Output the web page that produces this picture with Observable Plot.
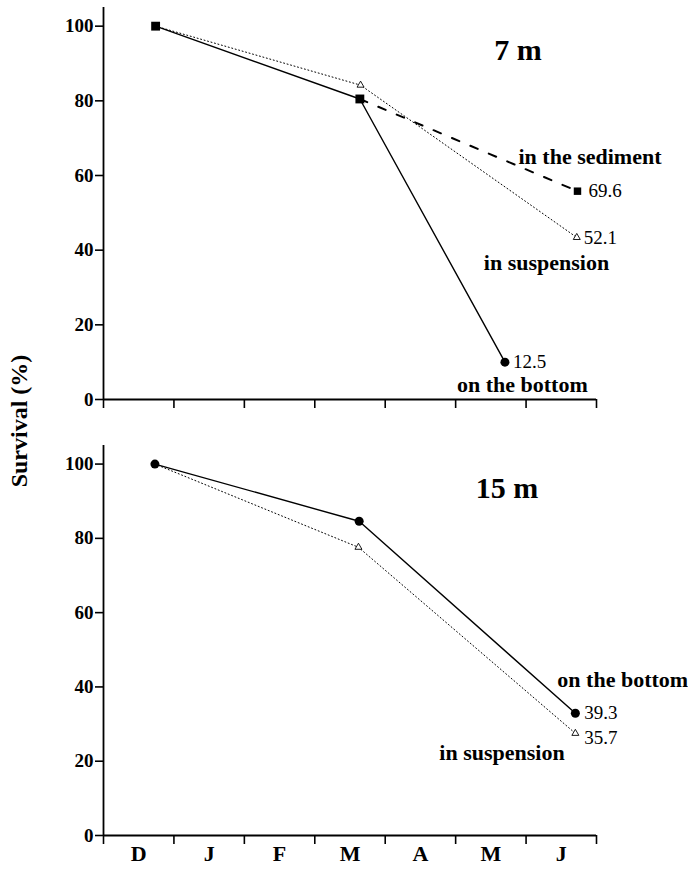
<!DOCTYPE html>
<html>
<head>
<meta charset="utf-8">
<script src="https://cdn.jsdelivr.net/npm/d3@7"></script>
<script src="https://cdn.jsdelivr.net/npm/@observablehq/plot@0.6"></script>
<style>
  html, body { margin: 0; padding: 0; background: #fff; }
  #wrap { position: relative; width: 688px; height: 873px; overflow: hidden; }
  #wrap svg.plot { display: block; }
  #ylab { position: absolute; left: 0; top: 0; }
</style>
</head>
<body>
<div id="wrap"></div>
<script>
// ---- data ----
const months = ["D", "J", "F", "M", "A", "M", "J"];
const monthBounds = [0, 1, 2, 3, 4, 5, 6, 7];
const monthCenters = [0.5, 1.5, 2.5, 3.5, 4.5, 5.5, 6.5];
const yTicks = [0, 20, 40, 60, 80, 100];

// 7 m panel (x = months since start of December)
const t7Bottom = [0.74, 3.64, 5.70];
const v7Bottom = [100, 80.5, 10];
const t7Sediment = [3.64, 6.73];
const v7Sediment = [80.5, 55.8];
const t7Suspension = [0.74, 3.65, 6.72];
const v7Suspension = [100, 84.2, 43.4];
const lab7 = {bottom: "12.5", sediment: "69.6", suspension: "52.1"};

// 15 m panel
const t15Bottom = [0.73, 3.63, 6.70];
const v15Bottom = [100, 84.6, 32.9];
const t15Suspension = [0.73, 3.62, 6.70];
const v15Suspension = [100, 77.6, 27.5];
const lab15 = {bottom: "39.3", suspension: "35.7"};

const zip = (xs, ys) => xs.map((x, i) => ({x, y: ys[i]}));
const last = (xs, ys) => [{x: xs[xs.length - 1], y: ys[ys.length - 1]}];

const serif = "Liberation Serif, Times New Roman, serif";
const common = {
  width: 688,
  marginLeft: 103,
  marginRight: 92,
  x: {domain: [0, 7], axis: null},
  y: {domain: [0, 105], axis: null},
  style: {fontFamily: serif, color: "black", background: "white", overflow: "visible"}
};
const axisMarks = (withLabels) => [
  Plot.ruleX([0], {strokeWidth: 1.8}),
  Plot.ruleY([0], {strokeWidth: 1.8}),
  Plot.axisY({ticks: yTicks, label: null, tickSize: 8, tickPadding: 2, fontSize: 19, fontWeight: "bold", strokeWidth: 1.6}),
  Plot.axisX({ticks: monthBounds, label: null, tickSize: 9, tickFormat: () => "", strokeWidth: 1.6}),
  ...(withLabels ? [Plot.axisX({ticks: monthCenters, label: null, tickSize: 0, tickPadding: 10, fontSize: 22, fontWeight: "bold",
     tickFormat: d => months[Math.floor(d)]})] : [])
];
const labelStyle = {fontSize: 22, fontWeight: "bold", textAnchor: "start", lineAnchor: "middle"};
const valStyle = {fontSize: 19, textAnchor: "start", lineAnchor: "middle"};

const plot7 = Plot.plot({
  ...common,
  height: 420,
  marginTop: 7,
  marginBottom: 21,
  marks: [
    ...axisMarks(false),
    Plot.line(zip(t7Suspension, v7Suspension), {x: "x", y: "y", stroke: "black", strokeWidth: 1, strokeDasharray: "1,2.6"}),
    Plot.line(zip(t7Sediment, v7Sediment), {x: "x", y: "y", stroke: "black", strokeWidth: 2, strokeDasharray: "8,12"}),
    Plot.line(zip(t7Bottom, v7Bottom), {x: "x", y: "y", stroke: "black", strokeWidth: 1.4}),
    Plot.dot(zip(t7Suspension, v7Suspension).slice(1), {x: "x", y: "y", symbol: "triangle", r: 2.6, stroke: "black", strokeWidth: 0.9, fill: "white"}),
    Plot.dot(zip(t7Bottom, v7Bottom).slice(0, 2), {x: "x", y: "y", symbol: "square", r: 5, fill: "black", stroke: "none"}),
    Plot.dot(last(t7Sediment, v7Sediment), {x: "x", y: "y", symbol: "square", r: 4.2, fill: "black", stroke: "none"}),
    Plot.dot(last(t7Bottom, v7Bottom), {x: "x", y: "y", symbol: "circle", r: 4.5, fill: "black", stroke: "none"}),
    Plot.text(last(t7Bottom, v7Bottom), {x: "x", y: "y", text: () => lab7.bottom, dx: 8, ...valStyle}),
    Plot.text(last(t7Sediment, v7Sediment), {x: "x", y: "y", text: () => lab7.sediment, dx: 11, ...valStyle}),
    Plot.text(last(t7Suspension, v7Suspension), {x: "x", y: "y", text: () => lab7.suspension, dx: 7, ...valStyle}),
    Plot.text(last(t7Sediment, v7Sediment), {x: "x", y: "y", text: () => "in the sediment", dx: -59, dy: -34, ...labelStyle}),
    Plot.text(last(t7Suspension, v7Suspension), {x: "x", y: "y", text: () => "in suspension", dx: -93, dy: 25, ...labelStyle}),
    Plot.text(last(t7Bottom, v7Bottom), {x: "x", y: "y", text: () => "on the bottom", dx: -48, dy: 23, ...labelStyle}),
    Plot.text(["7 m"], {frameAnchor: "top", dx: 168, dy: 43, fontSize: 30, fontWeight: "bold", lineAnchor: "middle"})
  ]
});

const plot15 = Plot.plot({
  ...common,
  height: 453,
  marginTop: 25,
  marginBottom: 38,
  marks: [
    ...axisMarks(true),
    Plot.line(zip(t15Suspension, v15Suspension), {x: "x", y: "y", stroke: "black", strokeWidth: 1, strokeDasharray: "1,2.6"}),
    Plot.line(zip(t15Bottom, v15Bottom), {x: "x", y: "y", stroke: "black", strokeWidth: 1.4}),
    Plot.dot(zip(t15Suspension, v15Suspension).slice(1), {x: "x", y: "y", symbol: "triangle", r: 2.6, stroke: "black", strokeWidth: 0.9, fill: "white"}),
    Plot.dot(zip(t15Bottom, v15Bottom), {x: "x", y: "y", symbol: "circle", r: 4.5, fill: "black", stroke: "none"}),
    Plot.text(last(t15Bottom, v15Bottom), {x: "x", y: "y", text: () => lab15.bottom, dx: 9, ...valStyle}),
    Plot.text(last(t15Suspension, v15Suspension), {x: "x", y: "y", text: () => lab15.suspension, dx: 9, dy: 5, ...valStyle}),
    Plot.text(last(t15Bottom, v15Bottom), {x: "x", y: "y", text: () => "on the bottom", dx: -18, dy: -33, ...labelStyle}),
    Plot.text(last(t15Suspension, v15Suspension), {x: "x", y: "y", text: () => "in suspension", dx: -136, dy: 20, ...labelStyle}),
    Plot.text(["15 m"], {frameAnchor: "top", dx: 157, dy: 43, fontSize: 30, fontWeight: "bold", lineAnchor: "middle"})
  ]
});

const wrap = document.getElementById("wrap");
plot7.classList.add("plot");
plot15.classList.add("plot");
wrap.appendChild(plot7);
wrap.appendChild(plot15);

// shared y-axis title
const ns = "http://www.w3.org/2000/svg";
const ylab = document.createElementNS(ns, "svg");
ylab.setAttribute("id", "ylab");
ylab.setAttribute("width", "45");
ylab.setAttribute("height", "873");
const ytxt = document.createElementNS(ns, "text");
ytxt.setAttribute("transform", "translate(27,421) rotate(-90)");
ytxt.setAttribute("text-anchor", "middle");
ytxt.setAttribute("font-family", serif);
ytxt.setAttribute("font-weight", "bold");
ytxt.setAttribute("font-size", "24");
ytxt.textContent = "Survival (%)";
ylab.appendChild(ytxt);
wrap.appendChild(ylab);
</script>
</body>
</html>
